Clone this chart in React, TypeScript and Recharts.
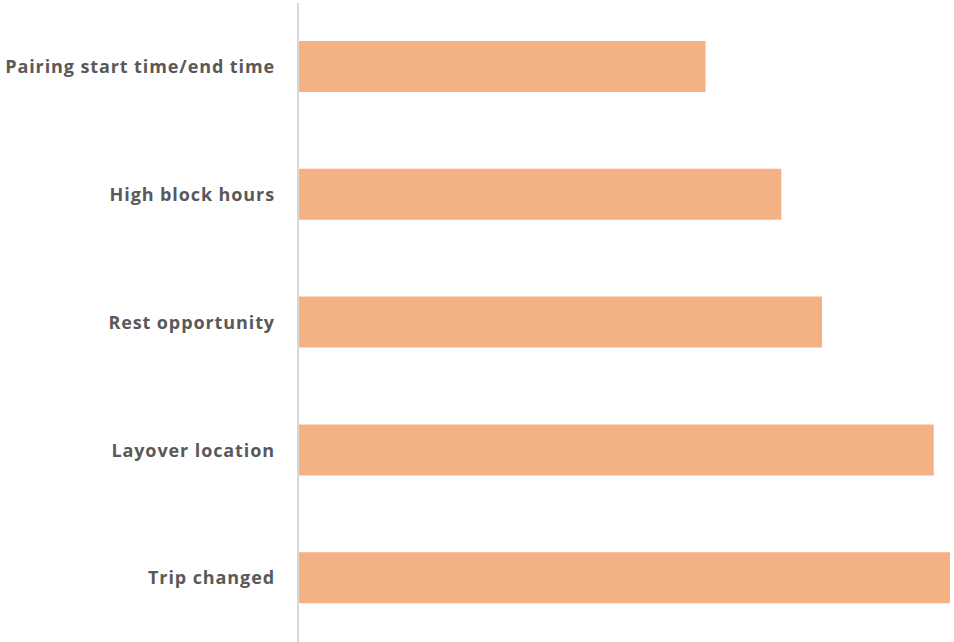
import React from 'react';
import { BarChart, Bar, XAxis, YAxis } from 'recharts';

const reasons = [
    'Pairing start time/end time',
    'High block hours',
    'Rest opportunity',
    'Layover location',
    'Trip changed',
];
const counts = [50, 59.3, 64.3, 78, 80];

const data = reasons.map((reason, i) => ({ reason, count: counts[i] }));

const App: React.FC = () => {
    return (
        <div style={{ position: 'absolute', left: 0, top: 0, width: 954, height: 642, background: '#fff' }}>
            <BarChart
                width={954}
                height={642}
                data={data}
                layout="vertical"
                margin={{ top: 3, right: 4, left: 0, bottom: 0 }}
                barCategoryGap="20%"
            >
                <XAxis type="number" domain={[0, 80]} hide />
                <YAxis
                    type="category"
                    dataKey="reason"
                    width={298}
                    tickLine={false}
                    tickSize={0}
                    tickMargin={23}
                    axisLine={{ stroke: '#d9d9d9', strokeWidth: 2 }}
                    tick={{ fill: '#595959', fontSize: 18, fontWeight: 700, fontFamily: 'Open Sans', letterSpacing: 0.9 }}
                />
                <Bar dataKey="count" fill="#f4b183" barSize={51} isAnimationActive={false} />
            </BarChart>
        </div>
    );
};

export default App;
